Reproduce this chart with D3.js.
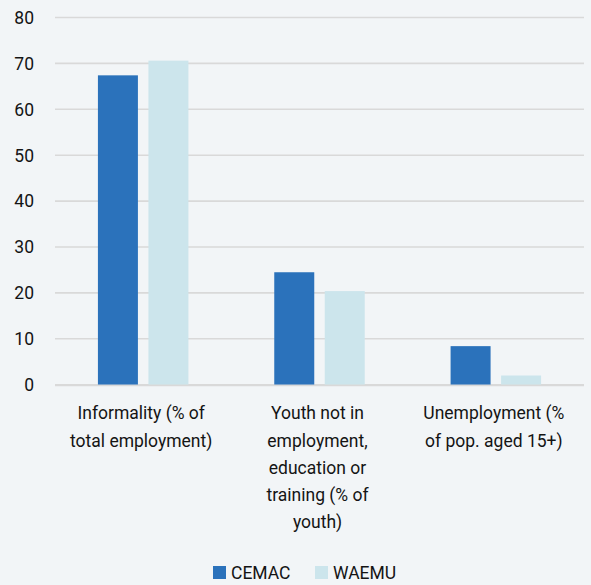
<!DOCTYPE html>
<html>
<head>
<meta charset="utf-8">
<script src="https://cdn.jsdelivr.net/npm/d3@7"></script>
<style>
  html, body { margin: 0; padding: 0; background: #f2f5f7; }
  svg { display: block; }
  text { font-family: Roboto, "Noto Sans", sans-serif; fill: #141414; }
</style>
</head>
<body>
<svg id="chart" width="591" height="585"></svg>
<script>
// Labour-market indicators, CEMAC vs WAEMU (percent)
const categories = [
  ["Informality (% of", "total employment)"],
  ["Youth not in", "employment,", "education or", "training (% of", "youth)"],
  ["Unemployment (%", "of pop. aged 15+)"]
];
const seriesNames = ["CEMAC", "WAEMU"];
const cemac = [67.4, 24.5, 8.4];
const waemu = [70.6, 20.4, 2.0];
const yTicks = [0, 10, 20, 30, 40, 50, 60, 70, 80];
const colors = ["#2b72bb", "#cce5ec"];

const svg = d3.select("#chart");
const margin = { left: 55, right: 7, top: 17.5 };
const W = 591;
const plotBottom = 384.7;

const x0 = d3.scaleBand()
  .domain(d3.range(categories.length))
  .range([margin.left, W - margin.right])
  .paddingInner(0).paddingOuter(0);

const x1 = d3.scaleBand()
  .domain(seriesNames)
  .range([0, x0.bandwidth()])
  .paddingInner(0.208)
  .paddingOuter(0.85);

const y = d3.scaleLinear().domain([0, 80]).range([plotBottom, margin.top]);

// gridlines
svg.append("g")
  .selectAll("line")
  .data(yTicks)
  .join("line")
  .attr("x1", margin.left)
  .attr("x2", W - margin.right)
  .attr("y1", d => y(d))
  .attr("y2", d => y(d))
  .attr("stroke", "#d9d9d9")
  .attr("stroke-width", 1.6);

// y tick labels
svg.append("g")
  .selectAll("text")
  .data(yTicks)
  .join("text")
  .attr("x", 34)
  .attr("y", d => y(d))
  .attr("dy", "0.36em")
  .attr("text-anchor", "end")
  .attr("font-size", 17.5)
  .text(d => d);

// bars
const series = [cemac, waemu];
const groups = svg.append("g")
  .selectAll("g")
  .data(categories.map((c, i) => i))
  .join("g")
  .attr("transform", i => `translate(${x0(i)},0)`);

groups.selectAll("rect")
  .data(i => seriesNames.map((s, k) => ({ s, k, v: series[k][i] })))
  .join("rect")
  .attr("x", d => x1(d.s))
  .attr("width", x1.bandwidth())
  .attr("y", d => y(d.v))
  .attr("height", d => y(0) - y(d.v))
  .attr("fill", d => colors[d.k]);

// baseline drawn over the bars
svg.append("line")
  .attr("x1", margin.left).attr("x2", W - margin.right)
  .attr("y1", y(0) + 0.8).attr("y2", y(0) + 0.8)
  .attr("stroke", "#d9d9d9").attr("stroke-width", 1.6);

// category labels
svg.append("g")
  .selectAll("text")
  .data(categories)
  .join("text")
  .attr("text-anchor", "middle")
  .attr("font-size", 17.5)
  .attr("transform", (d, i) => `translate(${x0(i) + x0.bandwidth() / 2 - 2},0)`)
  .selectAll("tspan")
  .data(d => d)
  .join("tspan")
  .attr("x", 0)
  .attr("y", (d, j) => 413 + j * 27.2)
  .attr("dy", "0.36em")
  .text(d => d);

// legend
const legend = svg.append("g");
const legendItems = [{ name: "CEMAC", x: 213 }, { name: "WAEMU", x: 315 }];
legendItems.forEach((it, k) => {
  legend.append("rect")
    .attr("x", it.x).attr("y", 566)
    .attr("width", 13).attr("height", 13)
    .attr("fill", colors[k]);
  legend.append("text")
    .attr("x", it.x + 18).attr("y", 573)
    .attr("dy", "0.36em")
    .attr("font-size", 17.5)
    .text(it.name);
});
</script>
</body>
</html>
